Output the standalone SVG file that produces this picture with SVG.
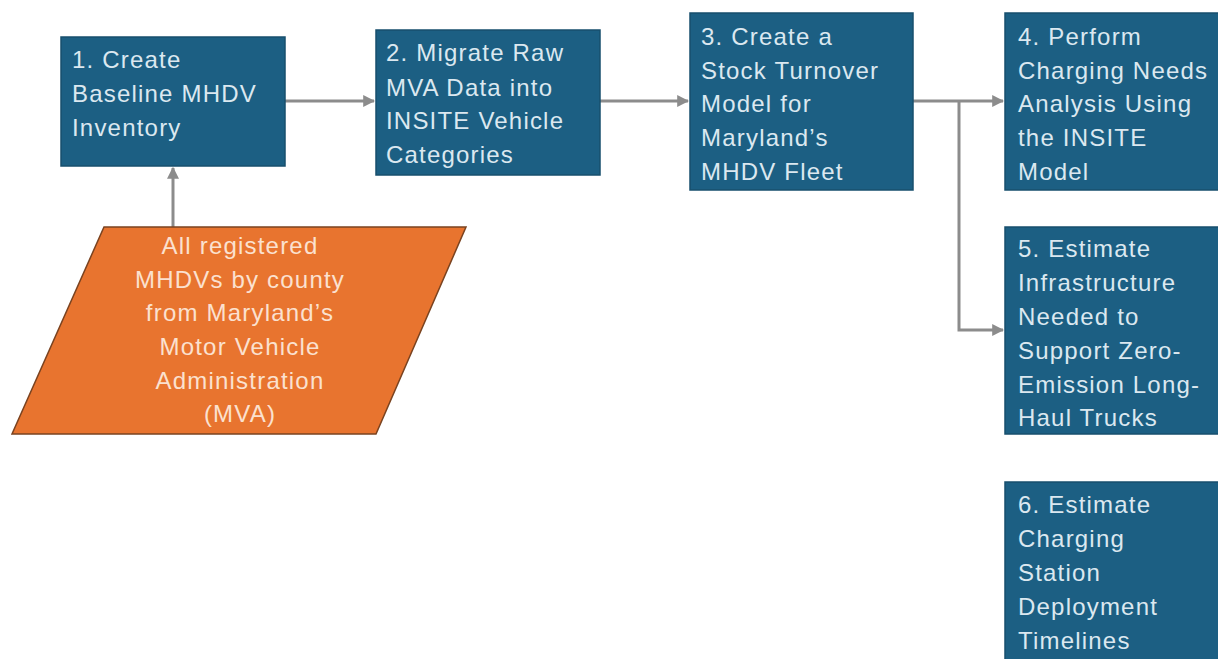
<svg xmlns="http://www.w3.org/2000/svg" width="1218" height="659" viewBox="0 0 1218 659">
<defs>
<style>
.box{fill:#1c5f83;stroke:#174f6d;stroke-width:1.5}
.bt{font-family:"Liberation Sans",Arial,sans-serif;font-size:24px;fill:#dbe8f0;letter-spacing:1.2px}
.ot{font-family:"Liberation Sans",Arial,sans-serif;font-size:24px;fill:#fbe1cf;letter-spacing:1.2px;text-anchor:middle}
.con{fill:none;stroke:#8c8c8c;stroke-width:3}
</style>
<marker id="ah" viewBox="0 0 10 10" refX="9" refY="5" markerWidth="4" markerHeight="4" orient="auto" markerUnits="strokeWidth">
<path d="M0,0 L10,5 L0,10 z" fill="#8c8c8c"/>
</marker>
</defs>
<rect width="1218" height="659" fill="#ffffff"/>
<g id="connectors">
<line class="con" x1="173" y1="227" x2="173" y2="168" marker-end="url(#ah)"/>
<line class="con" x1="285" y1="101" x2="374" y2="101" marker-end="url(#ah)"/>
<line class="con" x1="600" y1="101" x2="688" y2="101" marker-end="url(#ah)"/>
<line class="con" x1="913" y1="101" x2="1003" y2="101" marker-end="url(#ah)"/>
<polyline class="con" points="959,101 959,330 1003,330" marker-end="url(#ah)"/>
</g>
<g id="source">
<polygon points="104,227 466,227 376,434 12,434" fill="#e8742f" stroke="#7a4320" stroke-width="1.5"/>
<text class="ot"><tspan x="240" y="254">All registered</tspan><tspan x="240" y="288">MHDVs by county</tspan><tspan x="240" y="321">from Maryland’s</tspan><tspan x="240" y="355">Motor Vehicle</tspan><tspan x="240" y="389">Administration</tspan><tspan x="240" y="422">(MVA)</tspan></text>
</g>
<g id="step1">
<rect class="box" x="61" y="37" width="224" height="129"/>
<text class="bt"><tspan x="72" y="68">1. Create</tspan><tspan x="72" y="102">Baseline MHDV</tspan><tspan x="72" y="136">Inventory</tspan></text>
</g>
<g id="step2">
<rect class="box" x="376" y="30" width="224" height="145"/>
<text class="bt"><tspan x="386" y="61">2. Migrate Raw</tspan><tspan x="386" y="96">MVA Data into</tspan><tspan x="386" y="129">INSITE Vehicle</tspan><tspan x="386" y="163">Categories</tspan></text>
</g>
<g id="step3">
<rect class="box" x="690" y="13" width="223" height="177"/>
<text class="bt"><tspan x="701" y="45">3. Create a</tspan><tspan x="701" y="79">Stock Turnover</tspan><tspan x="701" y="112">Model for</tspan><tspan x="701" y="146">Maryland’s</tspan><tspan x="701" y="180">MHDV Fleet</tspan></text>
</g>
<g id="step4">
<rect class="box" x="1005" y="13" width="220" height="177"/>
<text class="bt"><tspan x="1018" y="45">4. Perform</tspan><tspan x="1018" y="79">Charging Needs</tspan><tspan x="1018" y="112">Analysis Using</tspan><tspan x="1018" y="146">the INSITE</tspan><tspan x="1018" y="180">Model</tspan></text>
</g>
<g id="step5">
<rect class="box" x="1005" y="227" width="220" height="207"/>
<text class="bt"><tspan x="1018" y="257">5. Estimate</tspan><tspan x="1018" y="291">Infrastructure</tspan><tspan x="1018" y="325">Needed to</tspan><tspan x="1018" y="359">Support Zero-</tspan><tspan x="1018" y="393">Emission Long-</tspan><tspan x="1018" y="426">Haul Trucks</tspan></text>
</g>
<g id="step6">
<rect class="box" x="1005" y="482" width="220" height="185"/>
<text class="bt"><tspan x="1018" y="513">6. Estimate</tspan><tspan x="1018" y="547">Charging</tspan><tspan x="1018" y="581">Station</tspan><tspan x="1018" y="615">Deployment</tspan><tspan x="1018" y="649">Timelines</tspan></text>
</g>
</svg>
